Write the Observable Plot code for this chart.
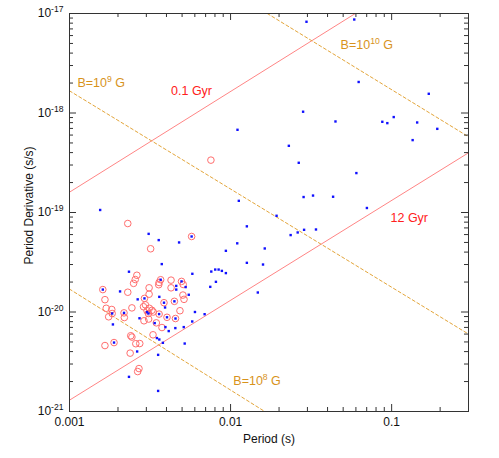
<!DOCTYPE html>
<html>
<head>
<meta charset="utf-8">
<script src="https://cdn.jsdelivr.net/npm/d3@7"></script>
<script src="https://cdn.jsdelivr.net/npm/@observablehq/plot@0.6"></script>
<style>
  body { margin: 0; background: #fff; }
  #chart svg { display: block; }
</style>
</head>
<body>
<div id="chart"></div>
<script>
// ---- Data ----
// Blue points (all pulsars): period (s), period derivative (s/s)
const bluePeriod = [0.00155,0.00310,0.00358,0.00479,0.00374,0.00234,0.00579,0.00206,0.00265,0.00186,
  0.00355,0.00263,0.00234,0.00355,0.00519,0.00601,0.00578,0.00550,0.00690,0.00748,
  0.00759,0.00803,0.00811,0.00843,0.00883,0.00935,0.00935,0.0110,0.01262,0.01262,
  0.01104,0.01125,0.0296,0.0586,0.0624,0.170,0.0282,0.0448,0.0875,0.0940,
  0.103,0.144,0.192,0.135,0.0230,0.0265,0.0604,0.0284,0.0325,0.0433,
  0.0193,0.0702,0.0236,0.0261,0.0286,0.0339,0.0163,0.0159,0.01476,0.00460,
  0.00526,0.00460,0.00392,0.00338,0.00394,0.00413,0.00454,0.00512,0.00349,0.00361,
  0.00380,0.00272,0.00361,0.00303,
  0.00573,0.00161,0.00496,0.00292,0.00386,0.00218,0.00184,0.00360,0.00403,0.00455,
  0.00189,0.00368,0.00309,0.00448];
const bluePdot = [1.06e-19,6.1e-20,5.28e-20,5.0e-20,3.03e-20,2.54e-20,2.42e-20,1.61e-20,1.34e-20,7.5e-21,
  3.71e-21,4.01e-21,2.23e-21,1.61e-21,4.82e-21,1.0e-20,8.03e-21,1.49e-20,9.5e-21,1.79e-20,
  2.55e-20,2.67e-20,2.01e-20,2.67e-20,2.59e-20,2.46e-20,4.12e-20,4.9e-20,3.12e-20,7.26e-20,
  6.78e-19,1.31e-19,8.26e-18,8.7e-18,2.05e-18,1.56e-18,1.03e-18,8.22e-19,8.16e-19,7.91e-19,
  9.1e-19,8.03e-19,6.93e-19,5.34e-19,4.68e-19,3.16e-19,2.49e-19,1.43e-19,1.48e-19,1.44e-19,
  9.27e-20,1.11e-19,5.93e-20,6.3e-20,6.7e-20,6.75e-20,4.35e-20,3.0e-20,1.57e-20,1.83e-20,
  1.78e-20,1.68e-20,1.11e-20,7.73e-21,7.05e-21,6.43e-21,6.89e-21,7.05e-21,5.47e-21,5.29e-21,
  4.9e-21,8.65e-21,1.42e-20,9.98e-21,
  5.74e-20,1.68e-20,2.03e-20,1.37e-20,1.24e-20,9.8e-21,9.66e-21,9.53e-21,8.85e-21,8.6e-21,
  4.93e-21,2.11e-20,9.66e-21,1.28e-20];

// Red open circles (second sample): period (s), period derivative (s/s)
const redPeriod = [0.00573,0.00161,0.00496,0.00292,0.00386,0.00218,0.00184,0.00360,0.00403,0.00455,
  0.00189,0.00368,0.00309,0.00448,
  0.00230,0.00319,0.00755,0.00262,0.00256,0.00250,0.00230,0.00312,0.00312,0.00166,
  0.00296,0.00244,0.00169,0.00183,0.00313,0.00325,0.00219,0.00175,0.00360,0.00358,
  0.00427,0.00508,0.00427,0.00506,0.00514,0.00288,0.00303,0.00310,0.00485,0.00290,
  0.00346,0.00375,0.00240,0.00244,0.00330,0.00258,0.00273,0.00166,0.00238,0.00270,
  0.00265,0.00331];
const redPdot = [5.74e-20,1.68e-20,2.03e-20,1.37e-20,1.24e-20,9.8e-21,9.66e-21,9.53e-21,8.85e-21,8.6e-21,
  4.93e-21,2.11e-20,9.66e-21,1.28e-20,
  7.75e-20,4.32e-20,3.36e-19,2.34e-20,2.12e-20,1.94e-20,1.58e-20,1.75e-20,1.51e-20,1.33e-20,
  1.18e-20,1.10e-20,1.09e-20,1.06e-20,1.09e-20,1.04e-20,8.8e-21,8.95e-21,1.98e-20,1.88e-20,
  2.09e-20,1.89e-20,1.75e-20,1.48e-20,1.34e-20,1.13e-20,1.03e-20,8.49e-21,1.03e-20,8.16e-21,
  7.78e-21,6.98e-21,5.77e-21,5.6e-21,5.9e-21,4.8e-21,4.82e-21,4.6e-21,3.86e-21,2.7e-21,
  2.52e-21,1.0e-20];

// Characteristic-age lines (end points)
const ageLineNames = ["0.1 Gyr", "0.1 Gyr", "12 Gyr", "12 Gyr"];
const ageLineP     = [0.001, 0.0595, 0.001, 0.3];
const ageLinePdot  = [1.6e-19, 1e-17, 1.3e-21, 3.98e-19];

// Magnetic-field lines (end points)
const bLineNames = ["1e8", "1e8", "1e9", "1e9", "1e10", "1e10"];
const bLineP     = [0.001, 0.0163, 0.001, 0.3, 0.0169, 0.3];
const bLinePdot  = [1.7e-20, 1e-21, 1.67e-18, 6.0e-21, 1e-17, 5.77e-19];

// Annotations
const ageLabels = ["0.1 Gyr", "12 Gyr"];
const ageLabelP = [0.00427, 0.0984];
const ageLabelPdot = [1.52e-18, 8.07e-20];
const bLabels = ["B=10^9 G", "B=10^10 G", "B=10^8 G"];
const bLabelP = [0.00112, 0.0482, 0.0104];
const bLabelPdot = [1.83e-18, 4.39e-18, 1.85e-21];

// Axes
const xMajor = [0.001, 0.01, 0.1];
const xTickLabels = ["0.001", "0.01", "0.1"];
const xMinor = [0.002,0.003,0.004,0.005,0.006,0.007,0.008,0.009,
                0.02,0.03,0.04,0.05,0.06,0.07,0.08,0.09,0.2];
const yMajor = [1e-21, 1e-20, 1e-19, 1e-18, 1e-17];
const yTickLabels = ["10^-21", "10^-20", "10^-19", "10^-18", "10^-17"];
const yMinor = [];
for (const e of [-21, -20, -19, -18]) for (let k = 2; k <= 9; k++) yMinor.push(+(k + "e" + e));
const xTitle = "Period (s)";
const yTitle = "Period Derivative (s/s)";

// ---- Build tables ----
const blue = bluePeriod.map((p, i) => ({p, pd: bluePdot[i]}));
const red = redPeriod.map((p, i) => ({p, pd: redPdot[i]}));
const ageLines = ageLineP.map((p, i) => ({name: ageLineNames[i], p, pd: ageLinePdot[i]}));
const bLines = bLineP.map((p, i) => ({name: bLineNames[i], p, pd: bLinePdot[i]}));
const ageAnn = ageLabels.map((t, i) => ({t, p: ageLabelP[i], pd: ageLabelPdot[i]}));
const bAnn = bLabels.map((t, i) => ({t, p: bLabelP[i], pd: bLabelPdot[i]}));

const W = 499, H = 458;
const mL = 69, mR = 31, mT = 13, mB = 47;
const plotW = W - mL - mR, plotH = H - mT - mB;
const axisColor = "#333";
const majorLen = 7, minorLen = 4;

const redLine = "#ff8585";
const redText = "#ff2020";
const orangeLine = "#e3a53a";
const orangeText = "#d8931c";

const chart = Plot.plot({
  width: W,
  height: H,
  marginLeft: mL,
  marginRight: mR,
  marginTop: mT,
  marginBottom: mB,
  style: {fontFamily: "'Liberation Sans', Arial, Helvetica, sans-serif", fontSize: "12px", background: "#fff", color: "#111"},
  x: {type: "log", domain: [0.001, 0.3]},
  y: {type: "log", domain: [1e-21, 1e-17]},
  marks: [
    // age and field lines
    Plot.line(ageLines, {x: "p", y: "pd", z: "name", stroke: redLine, strokeWidth: 1, clip: true}),
    Plot.line(bLines, {x: "p", y: "pd", z: "name", stroke: orangeLine, strokeWidth: 1, strokeDasharray: "3,2.5", clip: true}),
    // points
    Plot.dot(red, {x: "p", y: "pd", r: 3.3, stroke: "#ff6e6e", strokeWidth: 1, fill: "none"}),
    Plot.dot(blue, {x: "p", y: "pd", r: 1.35, symbol: "square", fill: "#1010ff", stroke: "none"}),
    // annotations
    Plot.text(ageAnn, {x: "p", y: "pd", text: "t", textAnchor: "start", lineAnchor: "bottom", fill: redText, fontSize: 12.5}),
    Plot.text(bAnn, {x: "p", y: "pd", text: "t", textAnchor: "start", lineAnchor: "bottom", fill: orangeText, fontSize: 12.5}),
    // frame
    Plot.frame({stroke: axisColor, strokeWidth: 1}),
    // ticks (inward, mirrored on all four sides)
    Plot.ruleX(xMajor, {x: d => d, insetTop: plotH - majorLen, stroke: axisColor}),
    Plot.ruleX(xMajor, {x: d => d, insetBottom: plotH - majorLen, stroke: axisColor}),
    Plot.ruleX(xMinor, {x: d => d, insetTop: plotH - minorLen, stroke: axisColor}),
    Plot.ruleX(xMinor, {x: d => d, insetBottom: plotH - minorLen, stroke: axisColor}),
    Plot.ruleY(yMajor, {y: d => d, insetRight: plotW - majorLen, stroke: axisColor}),
    Plot.ruleY(yMajor, {y: d => d, insetLeft: plotW - majorLen, stroke: axisColor}),
    Plot.ruleY(yMinor, {y: d => d, insetRight: plotW - minorLen, stroke: axisColor}),
    Plot.ruleY(yMinor, {y: d => d, insetLeft: plotW - minorLen, stroke: axisColor}),
    // tick labels
    Plot.axisX(xMajor, {anchor: "bottom", tickSize: 0, tickPadding: 6, label: null,
      tickFormat: d => xTickLabels[xMajor.indexOf(d)], fontSize: 12, fill: "#111"}),
    Plot.axisY(yMajor, {anchor: "left", tickSize: 0, tickPadding: 6, label: null,
      tickFormat: d => yTickLabels[yMajor.indexOf(d)], fontSize: 12, fill: "#111"}),
    // axis titles
    Plot.text([xTitle], {frameAnchor: "bottom", text: d => d, textAnchor: "middle", lineAnchor: "bottom", dy: 31, fontSize: 12, fill: "#111"}),
    Plot.text([yTitle], {frameAnchor: "left", text: d => d, rotate: -90, textAnchor: "middle", lineAnchor: "middle", dx: -40, dy: -7, fontSize: 12, fill: "#111"})
  ]
});

// Turn "10^n" into a real superscript (kept as text)
d3.select(chart).selectAll("text").each(function () {
  const s = this.textContent;
  const m = /^(.*?10)\^(-?\d+)(.*)$/.exec(s);
  if (!m || this.querySelector("tspan")) return;
  const fs = parseFloat(getComputedStyle(this).fontSize) || 12;
  const shift = Math.round(fs * 0.42);
  const sel = d3.select(this);
  sel.text(null);
  sel.append("tspan").text(m[1]);
  sel.append("tspan").attr("dy", -shift).attr("font-size", (fs * 0.72).toFixed(1)).text(m[2]);
  if (m[3]) sel.append("tspan").attr("dy", shift).text(m[3]);
});

document.getElementById("chart").appendChild(chart);
</script>
</body>
</html>
